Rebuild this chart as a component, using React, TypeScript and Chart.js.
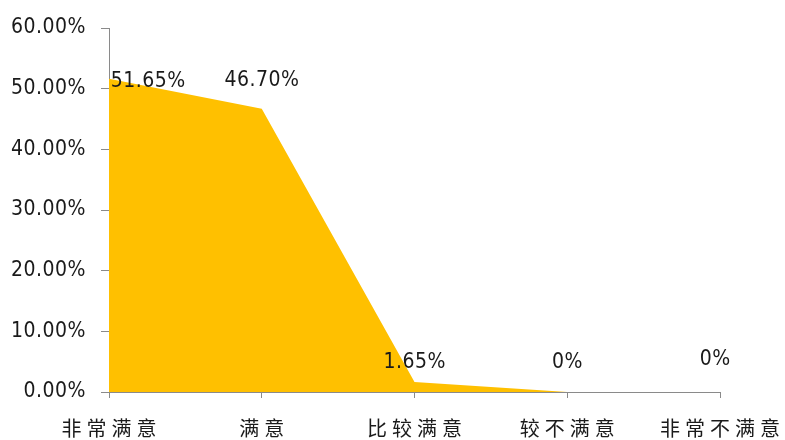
import React, { useEffect, useRef } from "react";
import { Chart, registerables } from "chart.js";

Chart.register(...registerables);

const categories = ["非常满意", "满意", "比较满意", "较不满意", "非常不满意"];
const satisfaction = [51.65, 46.7, 1.65, 0, 0];
const yTicks = [0, 10, 20, 30, 40, 50, 60];
// per-label nudge of the value label (dx, dy) relative to its point
const labelNudgeX = [39, 0, 0, 0, -5];
const labelNudgeY = [3, -28, -19, -29, -32];

const NUM_FONT = "'DejaVu Sans Condensed', 'DejaVu Sans'";

const fmtValue = (v: number) => (v === 0 ? "0%" : v.toFixed(2) + "%");

const textPlugin = {
  id: "customText",
  beforeDraw(chart: any) {
    chart.ctx.letterSpacing = "0.5px";
  },
  afterDraw(chart: any) {
    const ctx = chart.ctx;
    const meta = chart.getDatasetMeta(0);
    const xs = chart.scales.x;
    ctx.save();
    // value labels
    ctx.letterSpacing = "0.5px";
    ctx.font = "21px " + NUM_FONT;
    ctx.fillStyle = "#1a1a1a";
    ctx.textAlign = "center";
    ctx.textBaseline = "middle";
    meta.data.forEach((pt: any, i: number) => {
      ctx.fillText(fmtValue(satisfaction[i]), pt.x + labelNudgeX[i] + 0.25, pt.y + labelNudgeY[i]);
    });
    // category labels
    ctx.letterSpacing = "5px";
    ctx.font = "20px 'Noto Sans CJK SC'";
    categories.forEach((c, i) => {
      const x = xs.getPixelForValue(i);
      ctx.fillText(c, x + 2.5, 428);
    });
    ctx.restore();
  },
};

export default function App() {
  const ref = useRef<HTMLCanvasElement | null>(null);
  useEffect(() => {
    if (!ref.current) return;
    const chart = new Chart(ref.current, {
      type: "line",
      data: {
        labels: categories,
        datasets: [
          {
            data: satisfaction,
            fill: "origin",
            backgroundColor: "#FFC000",
            borderColor: "#FFC000",
            borderWidth: 0,
            pointRadius: 0,
            tension: 0,
          },
        ],
      },
      options: {
        animation: false,
        responsive: true,
        maintainAspectRatio: false,
        layout: { padding: { top: 28, right: 65, left: 0, bottom: 0 } },
        plugins: { legend: { display: false }, tooltip: { enabled: false } },
        scales: {
          x: {
            type: "category",
            offset: false,
            grid: { drawOnChartArea: false, drawTicks: true, tickLength: 6, color: "#8a8a8a" },
            border: { color: "#8a8a8a", width: 1 },
            ticks: { color: "rgba(0,0,0,0)", font: { size: 20, family: "'Noto Sans CJK SC'" } },
            afterFit: (s: any) => {
              s.height = 48;
            },
          },
          y: {
            min: 0,
            max: 60,
            afterBuildTicks: (s: any) => {
              s.ticks = yTicks.map((v) => ({ value: v }));
            },
            grid: { drawOnChartArea: false, drawTicks: true, tickLength: 8, color: "#8a8a8a" },
            border: { color: "#8a8a8a", width: 1 },
            ticks: {
              padding: 15,
              color: "#1a1a1a",
              font: { size: 21, family: NUM_FONT },
              callback: (v: any) => Number(v).toFixed(2) + "%",
            },
            afterFit: (s: any) => {
              s.width = 109;
            },
          },
        },
      },
      plugins: [textPlugin],
    });
    return () => chart.destroy();
  }, []);
  return (
    <div style={{ position: "fixed", left: 0, top: 0, width: 785, height: 440, background: "#fff" }}>
      <canvas ref={ref} />
    </div>
  );
}
